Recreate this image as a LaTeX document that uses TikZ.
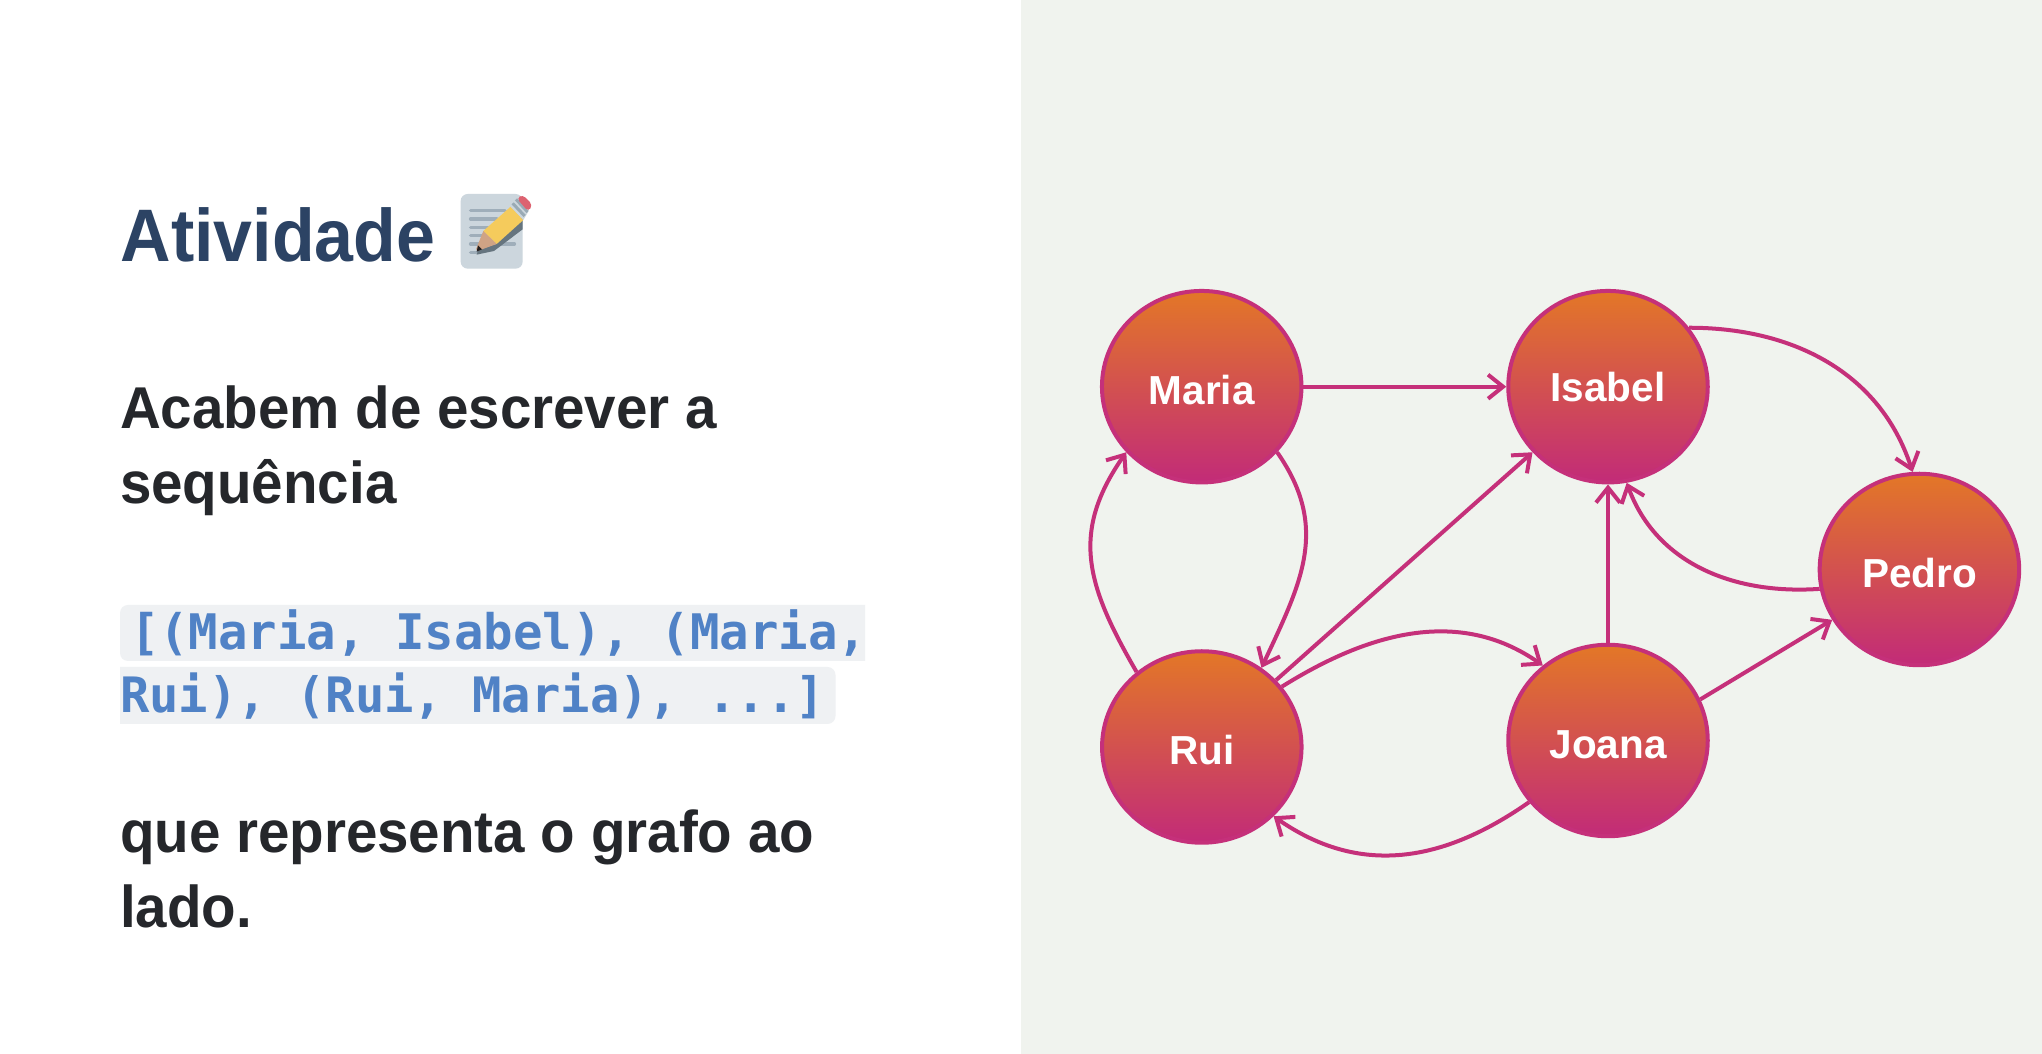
\documentclass[tikz,border=0pt]{standalone}
\usepackage{fontspec}
\usetikzlibrary{shapes.geometric,arrows.meta}
\setmainfont{Liberation Sans}
\newfontfamily\titlefont[FakeStretch=0.94]{Liberation Sans}
\newfontfamily\bodyfont[FakeStretch=0.958]{Liberation Sans}
\newfontfamily\codefont{DejaVu Sans Mono}
\definecolor{titlecol}{HTML}{2C4364}
\definecolor{bodycol}{HTML}{25272B}
\definecolor{codecol}{HTML}{5082C6}
\definecolor{codebg}{HTML}{EFF1F3}
\definecolor{panel}{HTML}{F0F3EE}
\definecolor{edgecol}{HTML}{C5307A}
\definecolor{gtop}{HTML}{E37727}
\definecolor{gbot}{HTML}{C22B78}
\definecolor{memobg}{RGB}{204,214,221}
\definecolor{memoline}{RGB}{159,174,186}
\definecolor{pencilshadow}{RGB}{102,117,127}
\definecolor{pencilbody}{RGB}{245,203,92}
\definecolor{pencilwood}{RGB}{207,163,133}
\definecolor{pencillead}{RGB}{35,31,32}
\definecolor{pencilband}{RGB}{153,170,181}
\definecolor{pencilrubber}{RGB}{221,98,112}
\tikzset{
  person/.style={ellipse,draw=edgecol,line width=4pt,top color=gtop,bottom color=gbot,
    minimum width=199.5pt,minimum height=191.5pt,inner sep=0pt,outer sep=2pt,text=white,
    font=\fontsize{40.5}{40.5}\selectfont\bfseries,text height=36pt,text depth=0pt},
  link/.style={draw=edgecol,line width=4pt,-{Straight Barb[length=15pt,width=24pt]}},
  bodytext/.style={anchor=base west,inner sep=0pt,outer sep=0pt,text=bodycol,font=\bodyfont\fontsize{59}{59}\selectfont\bfseries},
  codetext/.style={anchor=base west,inner sep=0pt,outer sep=0pt,text=codecol,font=\codefont\fontsize{49}{49}\selectfont\bfseries},
}
\begin{document}
\begin{tikzpicture}[x=1pt,y=1pt]
\useasboundingbox (0,0) rectangle (2042,1054);
\fill[white] (0,0) rectangle (2042,1054);
\fill[panel] (1021,0) rectangle (2042,1054);
% title
\node[anchor=base west,inner sep=0pt,text=titlecol,font=\titlefont\fontsize{74.4}{74.4}\selectfont\bfseries] (title) at (120.5,792.3) {Atividade};
% memo emoji
\begin{scope}[shift={(100,884)},x=0.33333pt,y=-0.33333pt]
\fill[rounded corners=7pt,memobg] (1082,72) rectangle (1268,296);
\foreach \yy/\xe in {122/1215,147/1190,172/1165,197/1145,222/1243,247/1140}
  \draw[line width=3.6pt,line cap=round,memoline] (1112,\yy) -- (\xe,\yy);
\fill[pencilshadow] (1130,254) -- (1182,243) -- (1268,178) -- (1268,140) -- (1190,222) -- (1135,238) -- cycle;
\fill[pencilbody] (1150,183) -- (1232,110) -- (1270,150) -- (1190,222) -- cycle;
\fill[pencilwood] (1150,183) -- (1190,222) -- (1135,242) -- (1128,238) -- cycle;
\fill[pencillead] (1134,226) -- (1146,238) -- (1130,245) -- cycle;
\fill[memobg] (1232,110) -- (1250,85) -- (1285,125) -- (1270,150) -- cycle;
\draw[line width=3pt,pencilband] (1238,100) -- (1274,138);
\draw[line width=3pt,pencilband] (1248,88) -- (1283,126);
\fill[rounded corners=4pt,pencilrubber] (1250,85) -- (1268,74) -- (1298,105) -- (1285,125) -- cycle;
\end{scope}
% text
\node[bodytext] (l1) at (120,625.7) {Acabem de escrever a};
\node[bodytext] (l2) at (120,550.3) {sequência};
\fill[codebg] (865,449) -- (865,393) [rounded corners=8pt] -- (120,393) -- (120,449) [sharp corners] -- cycle;
\fill[codebg] (120,387) -- (120,330) [rounded corners=8pt] -- (835.5,330) -- (835.5,387) [sharp corners] -- cycle;
\node[codetext] (c1) at (130,404) {[(Maria, Isabel), (Maria,};
\node[codetext,font=\codefont\fontsize{48.8}{48.8}\selectfont\bfseries] (c2) at (120,341.3) {Rui), (Rui, Maria), ...]};
\node[bodytext] (l3) at (120,201.5) {que representa o grafo ao};
\node[bodytext] (l4) at (120,126.5) {lado.};
% graph
\node[person] (maria) at (1201.7,667.3) {Maria};
\node[person,text height=30pt] (isabel) at (1608,667.3) {Isabel};
\node[person] (pedro) at (1919.4,484.5) {Pedro};
\node[person] (joana) at (1608,313.5) {Joana};
\node[person] (rui) at (1201.8,307) {Rui};
\draw[link] (maria.east) -- (isabel.west);
\draw[link] (maria.-41) to[out=-55,in=65,looseness=1.1] (rui.53.5);
\draw[link] (rui.131.7) to[out=120,in=235,looseness=1.15] (maria.221.6);
\draw[link] (rui.42.6) -- (isabel.221);
\draw[link] (rui.37) to[out=32,in=145,looseness=1] (joana.131.3);
\draw[link] (joana.218.7) to[out=215,in=325,looseness=1.05] (rui.-44);
\draw[link] (joana.north) -- (isabel.south);
\draw[link] (isabel.36.4) to[out=0,in=108,looseness=1] (pedro.94.3);
\draw[link] (pedro.191.5) to[out=184,in=290,looseness=1] (isabel.-79);
\draw[link] (joana.24.9) -- (pedro.210);
\end{tikzpicture}
\end{document}
